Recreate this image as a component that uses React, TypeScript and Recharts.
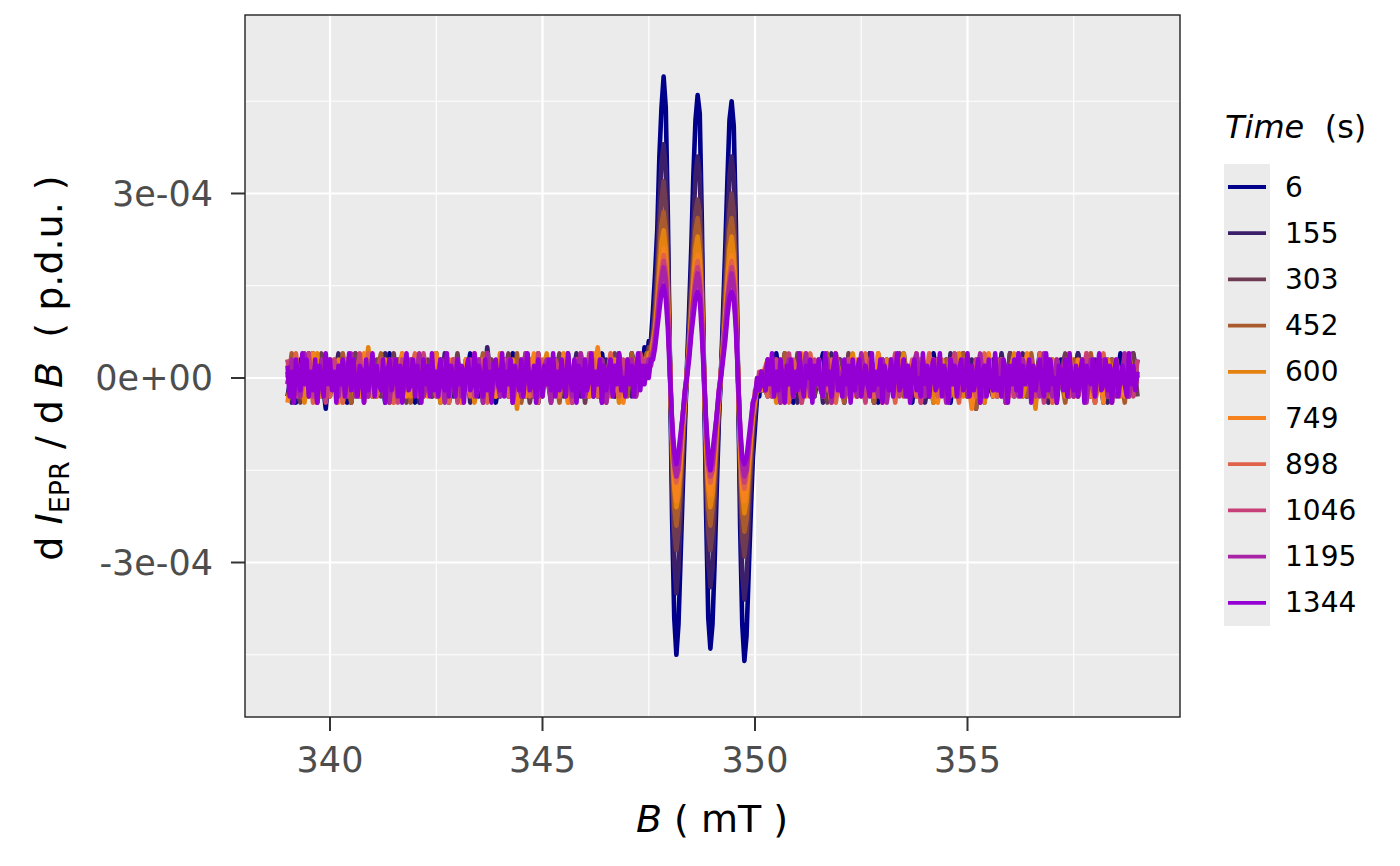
import React from 'react'
import { LineChart, Line, XAxis, YAxis, CartesianGrid } from 'recharts'

// field sweep in mT: baseline, finer sampling across the triplet, baseline
const fieldLeft = [
  339, 339.1, 339.2, 339.3, 339.4, 339.5, 339.6, 339.7, 339.8, 339.9,
  340, 340.1, 340.2, 340.3, 340.4, 340.5, 340.6, 340.7, 340.8, 340.9,
  341, 341.1, 341.2, 341.3, 341.4, 341.5, 341.6, 341.7, 341.8, 341.9,
  342, 342.1, 342.2, 342.3, 342.4, 342.5, 342.6, 342.7, 342.8, 342.9,
  343, 343.1, 343.2, 343.3, 343.4, 343.5, 343.6, 343.7, 343.8, 343.9,
  344, 344.1, 344.2, 344.3, 344.4, 344.5, 344.6, 344.7, 344.8, 344.9,
  345, 345.1, 345.2, 345.3, 345.4, 345.5, 345.6, 345.7, 345.8, 345.9,
  346, 346.1, 346.2, 346.3, 346.4, 346.5, 346.6, 346.7, 346.8, 346.9,
  347, 347.1, 347.2, 347.3,
]
const fieldPeak = [
  347.35, 347.4, 347.45, 347.5, 347.55, 347.6, 347.65, 347.7, 347.75, 347.8,
  347.85, 347.9, 347.95, 348, 348.05, 348.1, 348.15, 348.2, 348.25, 348.3,
  348.35, 348.4, 348.45, 348.5, 348.55, 348.6, 348.65, 348.7, 348.75, 348.8,
  348.85, 348.9, 348.95, 349, 349.05, 349.1, 349.15, 349.2, 349.25, 349.3,
  349.35, 349.4, 349.45, 349.5, 349.55, 349.6, 349.65, 349.7, 349.75, 349.8,
  349.85, 349.9, 349.95, 350, 350.05, 350.1, 350.15, 350.2,
]
const fieldRight = [
  350.3, 350.4, 350.5, 350.6, 350.7, 350.8, 350.9,
  351, 351.1, 351.2, 351.3, 351.4, 351.5, 351.6, 351.7, 351.8, 351.9,
  352, 352.1, 352.2, 352.3, 352.4, 352.5, 352.6, 352.7, 352.8, 352.9,
  353, 353.1, 353.2, 353.3, 353.4, 353.5, 353.6, 353.7, 353.8, 353.9,
  354, 354.1, 354.2, 354.3, 354.4, 354.5, 354.6, 354.7, 354.8, 354.9,
  355, 355.1, 355.2, 355.3, 355.4, 355.5, 355.6, 355.7, 355.8, 355.9,
  356, 356.1, 356.2, 356.3, 356.4, 356.5, 356.6, 356.7, 356.8, 356.9,
  357, 357.1, 357.2, 357.3, 357.4, 357.5, 357.6, 357.7, 357.8, 357.9,
  358, 358.1, 358.2, 358.3, 358.4, 358.5, 358.6, 358.7, 358.8, 358.9,
  359,
]
// the last (top-most) spectrum is kept at the finer 0.05 mT step over the baseline too
const fieldDenseLeft = [
  339, 339.05, 339.1, 339.15, 339.2, 339.25, 339.3, 339.35, 339.4, 339.45, 339.5, 339.55, 339.6, 339.65, 339.7, 339.75, 339.8, 339.85, 339.9, 339.95,
  340, 340.05, 340.1, 340.15, 340.2, 340.25, 340.3, 340.35, 340.4, 340.45, 340.5, 340.55, 340.6, 340.65, 340.7, 340.75, 340.8, 340.85, 340.9, 340.95,
  341, 341.05, 341.1, 341.15, 341.2, 341.25, 341.3, 341.35, 341.4, 341.45, 341.5, 341.55, 341.6, 341.65, 341.7, 341.75, 341.8, 341.85, 341.9, 341.95,
  342, 342.05, 342.1, 342.15, 342.2, 342.25, 342.3, 342.35, 342.4, 342.45, 342.5, 342.55, 342.6, 342.65, 342.7, 342.75, 342.8, 342.85, 342.9, 342.95,
  343, 343.05, 343.1, 343.15, 343.2, 343.25, 343.3, 343.35, 343.4, 343.45, 343.5, 343.55, 343.6, 343.65, 343.7, 343.75, 343.8, 343.85, 343.9, 343.95,
  344, 344.05, 344.1, 344.15, 344.2, 344.25, 344.3, 344.35, 344.4, 344.45, 344.5, 344.55, 344.6, 344.65, 344.7, 344.75, 344.8, 344.85, 344.9, 344.95,
  345, 345.05, 345.1, 345.15, 345.2, 345.25, 345.3, 345.35, 345.4, 345.45, 345.5, 345.55, 345.6, 345.65, 345.7, 345.75, 345.8, 345.85, 345.9, 345.95,
  346, 346.05, 346.1, 346.15, 346.2, 346.25, 346.3, 346.35, 346.4, 346.45, 346.5, 346.55, 346.6, 346.65, 346.7, 346.75, 346.8, 346.85, 346.9, 346.95,
  347, 347.05, 347.1, 347.15, 347.2, 347.25, 347.3,
]
const fieldDenseRight = [
  350.25, 350.3, 350.35, 350.4, 350.45, 350.5, 350.55, 350.6, 350.65, 350.7, 350.75, 350.8, 350.85, 350.9, 350.95,
  351, 351.05, 351.1, 351.15, 351.2, 351.25, 351.3, 351.35, 351.4, 351.45, 351.5, 351.55, 351.6, 351.65, 351.7, 351.75, 351.8, 351.85, 351.9, 351.95,
  352, 352.05, 352.1, 352.15, 352.2, 352.25, 352.3, 352.35, 352.4, 352.45, 352.5, 352.55, 352.6, 352.65, 352.7, 352.75, 352.8, 352.85, 352.9, 352.95,
  353, 353.05, 353.1, 353.15, 353.2, 353.25, 353.3, 353.35, 353.4, 353.45, 353.5, 353.55, 353.6, 353.65, 353.7, 353.75, 353.8, 353.85, 353.9, 353.95,
  354, 354.05, 354.1, 354.15, 354.2, 354.25, 354.3, 354.35, 354.4, 354.45, 354.5, 354.55, 354.6, 354.65, 354.7, 354.75, 354.8, 354.85, 354.9, 354.95,
  355, 355.05, 355.1, 355.15, 355.2, 355.25, 355.3, 355.35, 355.4, 355.45, 355.5, 355.55, 355.6, 355.65, 355.7, 355.75, 355.8, 355.85, 355.9, 355.95,
  356, 356.05, 356.1, 356.15, 356.2, 356.25, 356.3, 356.35, 356.4, 356.45, 356.5, 356.55, 356.6, 356.65, 356.7, 356.75, 356.8, 356.85, 356.9, 356.95,
  357, 357.05, 357.1, 357.15, 357.2, 357.25, 357.3, 357.35, 357.4, 357.45, 357.5, 357.55, 357.6, 357.65, 357.7, 357.75, 357.8, 357.85, 357.9, 357.95,
  358, 358.05, 358.1, 358.15, 358.2, 358.25, 358.3, 358.35, 358.4, 358.45, 358.5, 358.55, 358.6, 358.65, 358.7, 358.75, 358.8, 358.85, 358.9, 358.95,
  359,
]
const field = [...fieldLeft, ...fieldPeak, ...fieldRight]
const fieldDense = [...fieldDenseLeft, ...fieldPeak, ...fieldDenseRight]

const times = [6, 155, 303, 452, 600, 749, 898, 1046, 1195, 1344]
const colors = ['#00008B', '#3B1F6B', '#6E3B53', '#A95B2E', '#E4820F', '#F6821D', '#E0624A', '#C8407A', '#A823A6', '#9400D3']

// dI/dB in units of 1e-5 p.d.u., one array per time (left baseline | triplet | right baseline)
const spec6 = [
  -3, 1, -4, 3, 0, -1, 4, -3, 1, -5, 3, 0, -1, 3, -4, 1, 4, -3, 0, -1, 3, -3, 1, -4, 4, 0, -3, 1, 3, -1, -4, 3, 0, 1, -3, 4, -1, 0, -4, 3, 1, -3, 0, 4, -1, -3, 3, -1, 1, -4, 0, 3, -3, 4, -1, 0, -3, 1, 3, -4, 1, 0, -1, 3, -3, 1, 4, -4, 0, 1, -1, 3, -3, 0, 4, -1, 1, -3, 3, 0, -1, 4, 1, 3,
  1, 5, 2, 6, 6, 11, 17, 24, 36, 44, 49, 44, 26, 2, -23, -39, -45, -40, -29, -18, -8, 2, 11, 21, 33, 42, 46, 43, 25, 1, -22, -39, -44, -40, -30, -18, -7, 1, 11, 21, 32, 42, 45, 41, 25, 1, -24, -40, -46, -42, -32, -22, -13, -8, -3, -3, 1, -2,
  1, -3, 4, -1, 0, 3, -4, 1, -1, 3, 0, -3, 1, 4, -3, 0, -1, 3, -4, 1, 3, -1, 0, -3, 4, 1, -4, 0, 3, -1, -3, 1, 3, -1, -4, 3, 0, 1, -3, 4, -1, 0, 3, -4, 1, -3, 4, -1, 0, -5, 3, 1, -1, -3, 3, 0, -4, 4, -1, 1, 0, -3, 3, -1, 4, -3, 1, 0, -4, 3, -1, 1, -3, 4, 0, -1, 3, -3, 1, -4, 3, 0, -1, 4, -3, 1, -1, 3,
]
const spec155 = [
  1, -4, 3, 0, -3, 4, -1, 1, -3, 3, -1, 0, 4, -3, 1, -4, 3, -1, 0, 3, -3, 1, -1, 4, -4, 0, 3, -3, 1, -1, 3, -4, 1, 0, -1, 3, -3, 4, 0, -3, 1, -1, 3, -4, 0, 1, -3, 5, -1, 0, -3, 3, 1, -4, 1, -1, 0, 3, -3, 4, -1, 1, -4, 3, 0, -3, 1, -1, 4, -3, 0, 3, -1, 1, -4, 3, 0, -3, 4, -1, 1, -3, 3, 0,
  3, 1, 4, 3, 6, 8, 13, 19, 28, 35, 38, 34, 21, 2, -17, -30, -35, -31, -23, -14, -6, 1, 8, 17, 25, 33, 36, 33, 20, 1, -17, -30, -34, -31, -23, -14, -6, 1, 8, 17, 25, 33, 36, 33, 20, 0, -18, -32, -36, -33, -25, -17, -10, -6, -2, -2, 1, -1,
  -3, 3, 0, -1, 4, -3, 1, -4, 3, 0, -1, 1, 3, -4, 0, 4, -3, 1, -1, 0, 3, -3, 1, -1, 4, -4, 0, 3, -1, 1, -3, 0, 4, -1, -3, 3, 1, -4, 0, 1, 3, -1, -3, 4, 0, -1, 1, -3, 3, -4, 1, 0, -1, 3, -3, 4, -1, 0, -3, 1, 4, -3, 0, 1, -1, 3, -4, 1, 0, -1, 3, -3, 1, 4, -1, 0, -3, 3, -1, 1, -4, 3, 0, -1, 1, -3, 4, 0,
]
const spec303 = [
  0, 3, -1, -4, 1, 3, -3, 0, 4, -1, -3, 1, 0, -1, 3, -4, 4, -1, 1, -3, 0, 3, -3, 1, -1, 4, -3, 0, -4, 3, 1, -1, 0, 3, -3, 1, -4, 3, 0, -1, 4, -3, 1, -1, 0, 3, -4, 1, 3, -3, -1, 0, 4, -3, 1, -1, 3, -4, 0, 1, -3, 3, -1, 0, 4, -1, -3, 1, 0, 3, -4, 1, 3, -3, 0, 1, -1, 4, -3, 0, 3, -1, 1, 4,
  0, 3, 2, 5, 4, 7, 11, 16, 23, 29, 32, 28, 17, 2, -14, -25, -28, -25, -19, -11, -5, 1, 7, 14, 21, 27, 29, 27, 16, 1, -14, -25, -28, -25, -19, -11, -5, 1, 7, 14, 21, 27, 30, 27, 16, 1, -15, -26, -29, -26, -20, -14, -8, -5, -1, -2, 1, 0,
  3, -1, 0, -4, 3, 1, -3, 4, -1, 0, 1, -3, 3, -1, -4, 1, 0, 3, -3, 4, -1, 0, 1, -3, 3, -4, 1, 0, -1, 3, -3, 4, 0, -1, 1, -3, 3, -1, 0, -4, 3, 1, -3, 0, 4, -1, 1, -3, -1, 3, 0, -4, 3, -1, 1, 0, -3, 4, -1, 1, -3, 0, 3, -4, 1, -1, 3, 0, -3, 1, 4, -1, 0, -3, 3, -1, 1, -4, 3, 0, -1, 3, -3, 1, 0, -1, 4, -3,
]
const spec452 = [
  -1, 4, -3, 0, 1, -3, 3, -4, 1, 0, 3, -1, -3, 4, 0, -4, 1, 3, -1, 0, -3, 1, 4, -3, 0, -1, 3, -1, 1, -4, 3, 0, -3, 1, -1, 4, -3, 0, 3, -1, 0, -4, 3, 1, -3, 0, 4, -1, -3, 1, 3, -1, 0, -3, 4, -4, 1, 0, 3, -3, 1, -1, 3, 0, -4, 3, -1, 1, -3, 4, 0, -3, 1, -1, 3, -4, 0, 3, 1, -1, -3, 4, 0, 3,
  3, 1, 4, 2, 5, 6, 9, 14, 20, 25, 27, 24, 15, 2, -12, -21, -24, -21, -16, -10, -4, 1, 6, 12, 18, 24, 26, 23, 14, 1, -12, -21, -24, -21, -16, -10, -4, 1, 6, 12, 18, 24, 26, 23, 14, 1, -13, -22, -25, -23, -17, -12, -7, -4, -1, -2, 0, 1,
  0, -1, 3, -3, 4, -1, 0, 1, -4, 3, -3, 0, 1, -1, 4, -3, 3, 0, -4, 1, 1, -3, 0, 3, -1, -4, 4, 1, -3, 0, 3, -1, -3, 1, 0, 4, -4, 1, -1, 3, -1, 0, 3, -3, 1, -1, 4, -3, 0, -5, 1, 3, -1, 0, -3, 3, -4, 1, 0, -1, 3, -3, 4, -1, 0, 1, -3, 3, -1, 0, -4, 1, 3, -3, 0, -1, 4, -1, 1, -3, 0, 3, -1, 1, -4, 3, 0, -1,
]
const spec600 = [
  3, -3, 0, 1, -4, 3, -1, 4, -3, 0, 1, -1, 3, -4, 1, 0, -3, 3, -1, 5, -3, 0, 1, -1, 3, -4, 0, 4, -1, -3, 1, 3, -3, 0, -1, 4, -4, 1, 0, 3, -1, -3, 3, 1, -4, 0, 3, -1, 1, -3, 4, 0, -1, 3, -5, 1, -1, 3, 0, -3, 1, 4, -3, 0, -1, 3, -4, 1, 3, -1, 0, -3, 4, -1, 1, -3, 0, 3, -4, 1, 3, -1, 0, 1,
  0, 3, 1, 4, 3, 6, 8, 12, 17, 22, 24, 21, 13, 1, -10, -18, -21, -19, -14, -8, -3, 1, 5, 10, 16, 21, 23, 20, 12, 1, -10, -18, -21, -19, -14, -8, -3, 1, 5, 10, 16, 21, 23, 20, 12, 1, -11, -19, -22, -20, -15, -10, -6, -4, -1, -2, 1, -1,
  -1, 3, -4, 1, 0, 3, -3, 1, -1, 4, -3, 0, 3, -1, 1, -4, 3, 0, -3, 1, 4, -1, -3, 3, 0, -1, 1, -4, 3, 0, -3, 1, 4, -3, -1, 0, 3, -1, 1, -4, 0, 3, -1, 1, -3, 4, -3, 0, 1, -1, 3, -4, 1, 0, -1, 3, -3, 1, 4, -1, -3, 0, 1, -5, 3, -1, 0, 3, -1, 1, -3, 4, 0, -1, 3, -3, 1, -4, 0, 3, -1, 1, 3, -3, 0, 4, -1, 0,
]
const spec749 = [
  -4, 1, 3, -1, 0, -3, 4, -1, 1, -3, 3, 0, -4, 1, -1, 3, 0, -3, 4, -1, 1, -3, 0, 3, -4, 1, -1, 4, -3, 0, -1, 3, 1, -3, 0, 4, -1, -3, 3, 0, 1, -4, 3, -1, 0, 1, -3, 4, -1, -3, 3, 0, -1, 1, -4, 3, -3, 0, 4, -1, 0, 3, -3, 1, -1, 4, -4, 1, 0, -1, 3, -3, 0, 5, -1, 1, -3, 0, 3, -4, 1, 0, -1, 3,
  2, 0, 3, 1, 4, 4, 7, 11, 15, 19, 21, 19, 11, 1, -10, -17, -20, -17, -13, -8, -4, 1, 4, 9, 14, 18, 20, 18, 11, 0, -10, -17, -19, -17, -13, -8, -4, 1, 4, 9, 14, 18, 20, 18, 11, 0, -11, -18, -20, -18, -14, -10, -6, -3, -2, 0, -2, 1,
  3, -3, 1, 0, -4, 3, -1, 1, 4, -3, 0, -1, 3, -3, 1, -4, 4, 0, -1, 1, -3, 3, 0, -1, 1, -3, 4, -4, 1, 0, 3, -1, 0, -3, 1, 4, -3, 0, -1, 3, -4, 1, 0, 3, -1, -3, 3, 1, -5, 0, 1, -1, 4, -3, 0, 3, -1, -3, 1, 0, -1, 4, -3, 1, 0, -1, 3, -4, 3, -1, 0, 1, -3, 3, -1, 4, -3, 0, 1, -4, 3, 0, -1, 1, -3, 3, 0, -1,
]
const spec898 = [
  1, -1, 4, -3, 0, 3, -4, 1, -1, 0, -3, 3, 1, -4, 3, 0, -1, 1, -3, 4, 0, -3, 3, -1, 1, -4, 0, 3, -1, 1, 4, -3, 0, -1, 3, -3, 1, 0, -4, 3, -1, 1, 0, -3, 4, -1, 3, -4, 0, 1, -1, 3, -3, 0, 1, -1, 4, -3, 1, -4, 3, 0, -1, 1, -3, 3, 0, -4, 1, 3, -1, 0, 3, -3, 1, -1, 4, 0, -3, 1, 0, -1, 3, 1,
  1, 3, 0, 3, 2, 5, 7, 10, 15, 18, 20, 18, 11, 1, -8, -15, -17, -15, -11, -7, -3, 1, 5, 9, 13, 17, 19, 17, 10, 1, -8, -15, -17, -15, -11, -7, -3, 1, 5, 9, 13, 17, 19, 17, 10, 1, -9, -16, -18, -16, -12, -8, -5, -3, 0, -2, 1, -1,
  -3, 1, 0, 3, -1, -4, 3, 1, -3, 0, 4, -1, 1, -3, 0, 3, -4, 1, -1, 3, 0, -3, 1, 4, -1, -3, 0, 3, -1, 1, -4, 3, 0, -1, 3, -3, 1, -1, 4, 0, -3, 1, -1, 3, 0, -4, 3, -1, 1, -3, 0, 4, -1, 1, -3, 3, -4, 0, 1, -1, 3, -1, 0, -3, 4, -1, 1, -4, 3, 0, -1, 3, -3, 1, 0, -1, 3, -4, 1, 4, -3, 0, 1, -1, 3, -3, 1, 0,
]
const spec1046 = [
  3, 0, -3, 1, -1, 4, -3, 0, 1, -4, 1, 3, -1, 0, -3, 3, -1, 4, -4, 0, 1, -1, 3, -3, 0, 1, -4, 3, -1, 1, 0, -3, 4, -1, 1, -3, 3, 0, -1, 3, -4, 1, 0, 3, -3, 1, -1, 4, -3, 0, 1, -1, 3, -4, 0, 3, -1, 1, -3, 4, -1, 0, -3, 3, 1, -1, 0, -4, 3, 1, -3, 4, -1, 0, 1, -3, 3, -1, 0, 3, -1, 1, -3, 4,
  3, 1, 3, 1, 4, 4, 7, 10, 14, 17, 19, 17, 10, 2, -8, -14, -16, -15, -11, -6, -2, 1, 4, 8, 13, 16, 18, 16, 10, 1, -8, -14, -16, -15, -11, -6, -2, 1, 4, 8, 13, 16, 18, 16, 10, 1, -9, -15, -17, -15, -12, -8, -5, -2, -2, 1, -1, 1,
  1, -3, 3, -1, 0, 4, -3, 1, -4, 1, 0, 3, -1, -3, 1, 0, 4, -1, -3, 3, -1, 1, 0, -4, 3, -1, 1, 3, -3, 0, 4, -3, 1, -1, 0, 3, -4, 1, 0, -1, 3, -1, -3, 1, 4, -3, 0, 1, -1, 3, -4, 0, 1, -1, 3, -3, 1, 0, -3, 4, 0, -1, 3, -3, 1, -4, 3, 0, 1, -1, 3, -3, 0, 1, -1, 4, -1, -3, 3, 0, 1, -4, 3, -1, 0, 1, -3, 3,
]
const spec1195 = [
  -1, 3, 0, -3, 4, -1, 1, -4, 3, 0, -1, 1, -3, 3, 0, 4, -3, -1, 1, -3, 3, 0, -1, 1, -4, 3, 1, -3, 0, 3, -1, 4, -3, 0, 1, -1, 3, -4, 1, 0, 3, -3, 1, -1, 0, 3, -4, 4, -1, 1, -3, 0, 3, -1, 1, -3, 4, -1, 0, -3, 1, 3, -4, 1, 0, -1, 3, -3, 1, 4, -3, 0, 1, -1, 3, -4, 1, 0, 3, -1, 0, 3, -3, 1,
  0, 2, 1, 3, 2, 4, 6, 9, 13, 16, 18, 16, 10, 1, -8, -14, -16, -14, -10, -6, -3, 1, 4, 8, 12, 15, 17, 15, 9, 1, -8, -14, -15, -14, -10, -6, -3, 1, 4, 8, 12, 15, 17, 15, 9, 0, -8, -14, -16, -15, -11, -8, -4, -3, -1, -2, 1, 0,
  3, -1, 1, -4, 0, 3, -3, 1, -1, 4, -3, 1, 0, -1, 3, -4, 3, 0, -3, 1, 1, -3, 4, -1, 0, 1, -3, 3, -4, 1, 0, -1, 3, -3, 1, 4, -1, -3, 0, 3, -1, 1, -4, 3, 0, -1, 3, -3, 1, 0, 4, -3, 0, 1, -1, 3, -4, 1, 0, -3, 3, -1, 1, 0, -3, 4, -1, -3, 3, 0, -1, 3, -3, 1, 0, -4, 3, -1, 1, 3, -3, 0, 1, -1, 4, -3, 1, 0,
]
// on fieldDense
const spec1344 = [
  2, -3, 1, -4, 3, 0, -2, 4, -1, 3, -3, 1, -2, 3, -4, 2, 0, -3, 4, -1, 3, -2, 1, -4, 2, -1, 3, -3, 0, 4, -2, 3, -1, -3, 2, 1, -4, 3, -2, 0,
  4, -3, 2, -1, -2, 3, -4, 1, 3, -2, 0, 3, -3, 2, -4, 1, 4, -2, -1, 3, -3, 2, 0, -4, 3, -1, 2, -3, 4, -2, 1, -3, 3, -1, -2, 4, -3, 2, 0, -3,
  3, -1, 2, -4, 1, 3, -2, -1, 4, -3, 2, 0, -3, 3, -2, 1, -4, 2, 3, -1, -2, 4, -3, 1, -1, 3, -4, 2, 0, -2, 3, -3, 1, 4, -2, -1, 2, -4, 3, 0,
  -3, 2, -1, 3, -2, 4, -3, 1, -2, 3, -1, -3, 4, 0, -2, 3, -4, 2, 1, -3, 3, -2, 0, 4, -3, 1, -1, 3, -4, 2, -2, 1, 3, -3, 2, -1, 4, -2, 0, -3,
  3, -1, 2, -3, 1, 4, -2,
  2, -1, 2, 0, 3, 3, 5, 8, 11, 14, 15, 13, 8, 0, -7, -12, -14, -12, -9, -6, -2, 0, 3, 7, 10, 13, 14, 13, 7, 0, -7, -12, -15, -12, -9, -6, -2, 0, 3, 6, 10, 13, 14, 13, 8, 0, -8, -13, -14, -13, -10, -7, -4, -3, 0, -2, 1, -1,
  -2, 3, -1, 4, -3, 1, -2, 3, 0, -4, 2, -1, 3, -3, 1, -2, 4, -1, -3, 2, 0, 3, -4, 2, -1, 3, -2, -3, 4, -1, 1, -3, 2, 4, -2, 0, -3, 3, -1, 2,
  -4, 3, -2, 1, 3, -3, 0, 2, -1, -3, 4, -2, 1, -1, 3, -4, 2, 0, -2, 3, -3, 1, 4, -2, -1, 3, -3, 2, -4, 1, 3, -2, 0, -3, 4, -1, 2, -3, 1, 3,
  -2, -1, 4, -3, 2, 0, -4, 3, -1, 2, -3, 1, 3, -2, -1, 4, -3, 2, -2, 0, 3, -4, 1, 2, -3, 3, -1, -2, 4, -2, 0, -3, 3, 1, -4, 2, -1, 3, -2, 4,
  -3, 2, -1, 0, 3, -4, 2, -2, 1, 3, -1, -3, 4, -2, 3, -1, 0, -4, 2, 1, -2, 3, -3, 4, -1, -2, 2, -3, 1, 3, -4, 2, 0, -1, 3, -3, 1, 4, -2, -1,
  3, -2, 2, -4, 1, 3, -3, 0, 2, -1, -3, 4, -1, 2, -2, 1,
]
const spectra = [spec6, spec155, spec303, spec452, spec600, spec749, spec898, spec1046, spec1195, spec1344]
const grids = [field, field, field, field, field, field, field, field, field, fieldDense]

const xTicks = [340, 345, 350, 355]
const xMinor = [342.5, 347.5, 352.5, 357.5]
const yTicks = [-3e-4, 0, 3e-4]
const yTickLabels = ['-3e-04', '0e+00', '3e-04']
const yMinor = [-4.5e-4, -1.5e-4, 1.5e-4, 4.5e-4]

const seriesRows = spectra.map((s, k) => grids[k].map((b, i) => ({ b, v: s[i] * 1e-5 })))

const FONT = 'DejaVu Sans'

export default function App() {
  return (
    <div style={{ position: 'absolute', left: 0, top: 0, width: 1400, height: 866, background: '#fff', fontFamily: FONT }}>
      <LineChart width={1400} height={866} margin={{ top: 15, right: 220, bottom: 89, left: 45 }}>
        <CartesianGrid fill="#EBEBEB" stroke="#fff" strokeWidth={1.1} verticalValues={xMinor} horizontalValues={yMinor} />
        <CartesianGrid stroke="#fff" strokeWidth={2.2} verticalValues={xTicks} horizontalValues={yTicks} />
        <XAxis
          type="number"
          dataKey="b"
          domain={[338, 360]}
          ticks={xTicks}
          interval={0}
          allowDataOverflow
          height={60}
          axisLine={false}
          tickSize={14}
          tickMargin={16}
          tickLine={{ stroke: '#333', strokeWidth: 2 }}
          tick={{ fill: '#4D4D4D', fontSize: 35, fontFamily: FONT }}
        />
        <YAxis
          type="number"
          domain={[-5.512e-4, 5.902e-4]}
          ticks={yTicks}
          interval={0}
          allowDataOverflow
          width={200}
          axisLine={false}
          tickSize={14}
          tickMargin={18}
          tickLine={{ stroke: '#333', strokeWidth: 2 }}
          tick={{ fill: '#4D4D4D', fontSize: 35, fontFamily: FONT }}
          tickFormatter={(v: number) => yTickLabels[yTicks.indexOf(v)]}
        />
        {times.map((t, k) => (
          <Line
            key={t}
            name={String(t)}
            data={seriesRows[k]}
            type="linear"
            dataKey="v"
            stroke={colors[k]}
            strokeWidth={4.6}
            strokeLinejoin="round"
            dot={false}
            activeDot={false}
            isAnimationActive={false}
          />
        ))}
      </LineChart>
      <svg width={1400} height={866} style={{ position: 'absolute', left: 0, top: 0, pointerEvents: 'none' }} fontFamily={FONT}>
        <rect x={245} y={15} width={935} height={702} fill="none" stroke="#222" strokeWidth={1.4} />
        <text x={712} y={832} textAnchor="middle" fontSize={38} fill="#000" style={{ whiteSpace: 'pre' }}>
          <tspan fontStyle="italic">B</tspan>
          <tspan>{' ( mT )'}</tspan>
        </text>
        <text transform="translate(62,368) rotate(-90)" textAnchor="middle" fontSize={38} fill="#000" style={{ whiteSpace: 'pre' }}>
          <tspan>{'d '}</tspan>
          <tspan fontStyle="italic">I</tspan>
          <tspan fontSize={27} dy={7}>EPR</tspan>
          <tspan dy={-7}>{' / d '}</tspan>
          <tspan fontStyle="italic">B</tspan>
          <tspan>{'  ( p.d.u. )'}</tspan>
        </text>
        <text x={1225} y={138} fontSize={32} fill="#000" style={{ whiteSpace: 'pre' }}>
          <tspan fontStyle="italic">Time</tspan>
          <tspan>{'  (s)'}</tspan>
        </text>
        <rect x={1224} y={164} width={46} height={462} fill="#EBEBEB" />
        {times.map((t, k) => (
          <g key={t}>
            <line x1={1228} x2={1266} y1={187 + k * 46.2} y2={187 + k * 46.2} stroke={colors[k]} strokeWidth={3.8} />
            <text x={1285} y={187 + k * 46.2} dominantBaseline="central" fontSize={28} fill="#000">{t}</text>
          </g>
        ))}
      </svg>
    </div>
  )
}
